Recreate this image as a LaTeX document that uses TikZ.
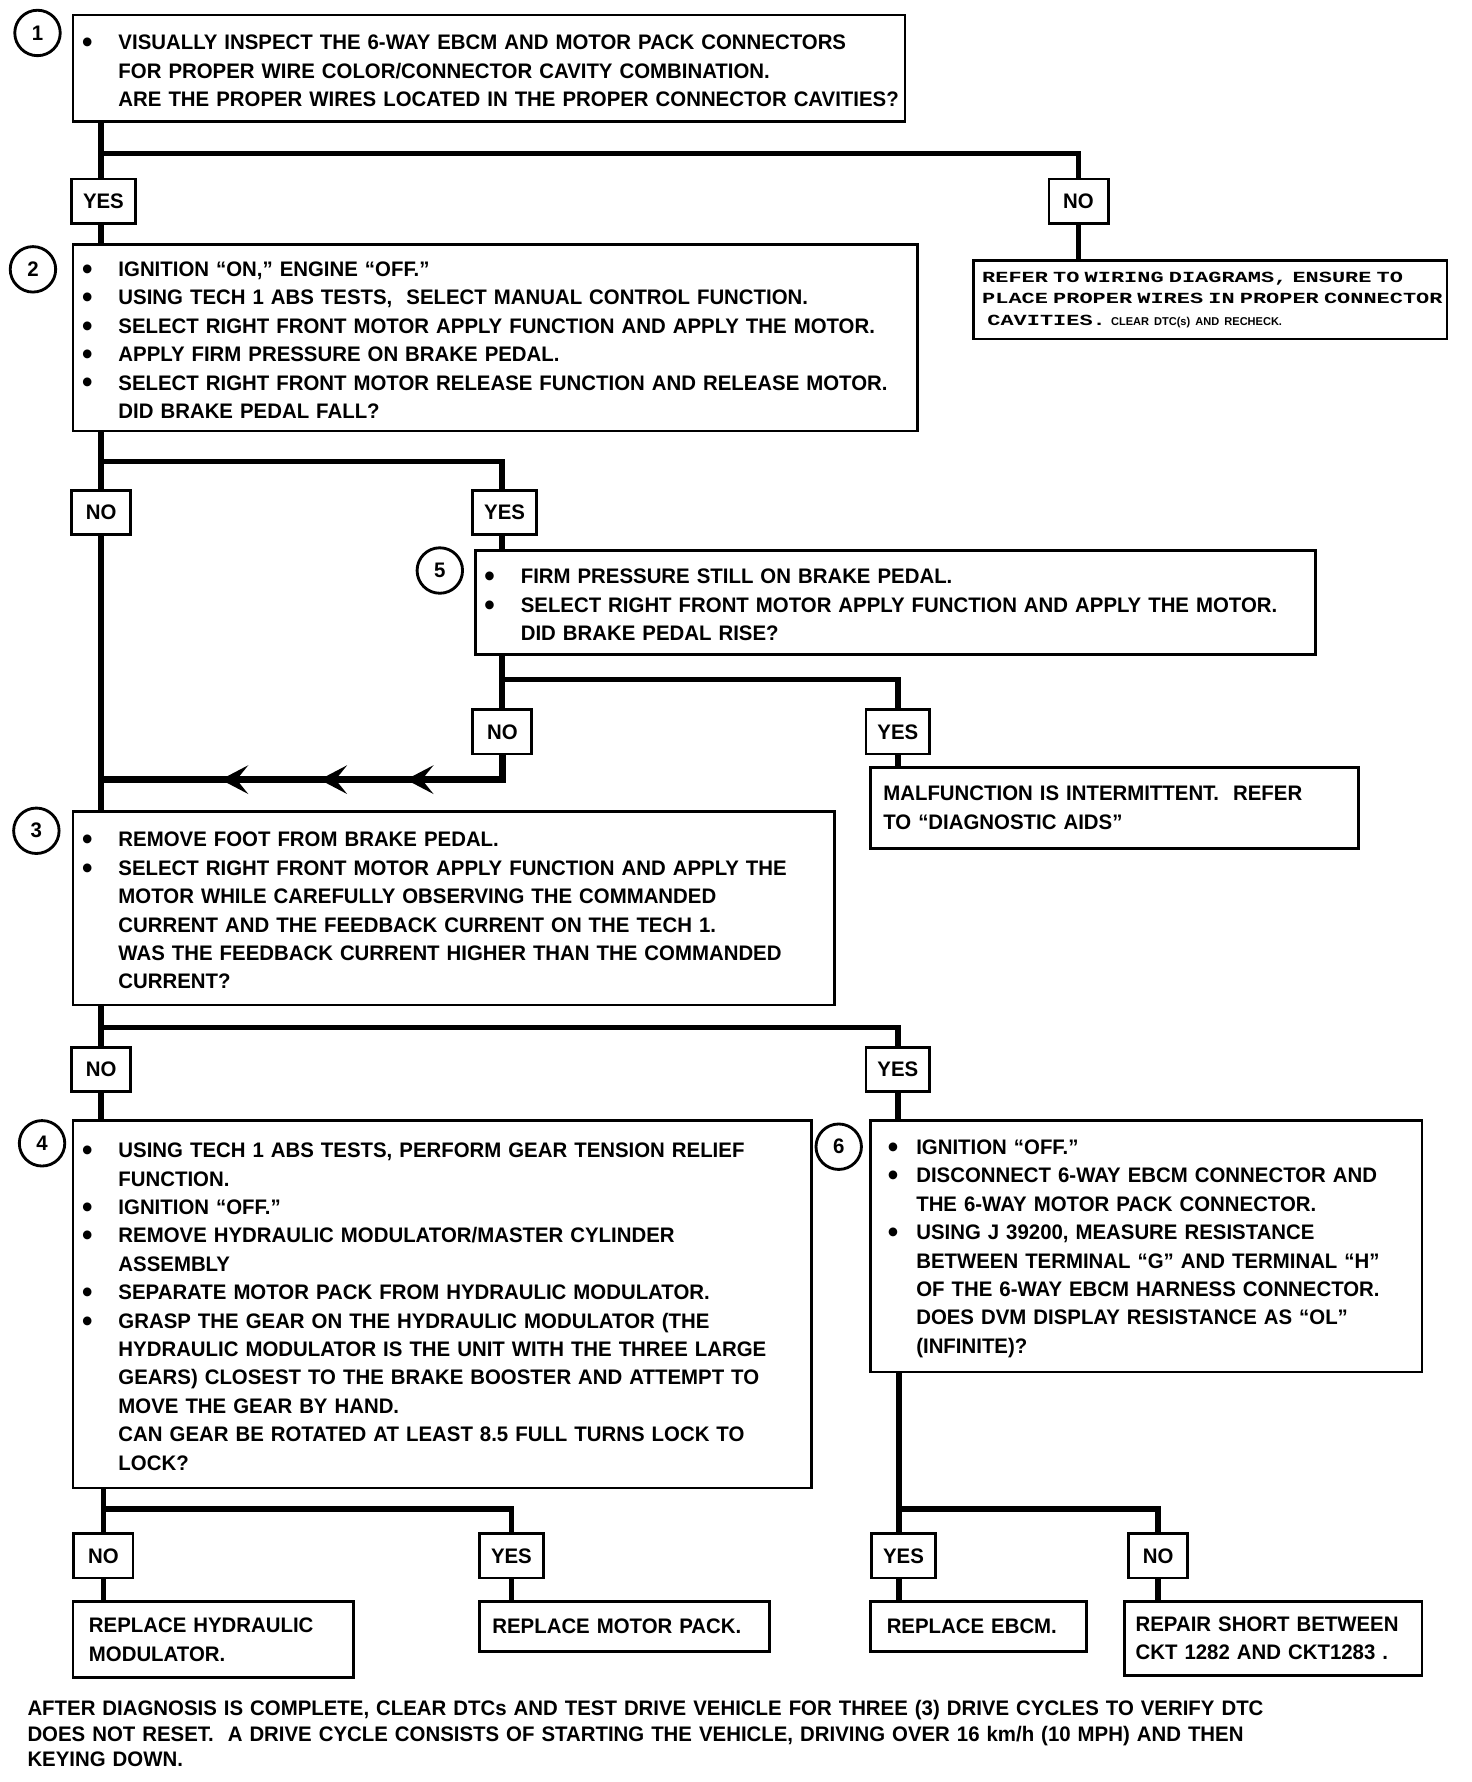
\documentclass[tikz,border=0pt]{standalone}
\usepackage{fontspec}
\setmainfont{Liberation Sans}[FakeStretch=0.97]
\newfontfamily\reffont{Liberation Mono}[FakeStretch=1.42]
\usetikzlibrary{arrows.meta,decorations.markings}
\newlength\bulind \setlength\bulind{8pt}
\newlength\itmind \setlength\itmind{40pt}
\newcommand\bigdot{\raisebox{-2.5pt}{\fontsize{27pt}{25pt}\selectfont\textbullet}}
\newcommand\bl[1]{\par\noindent\rlap{\hspace*{\bulind}\bigdot}\hspace*{\itmind}\mbox{#1}}
\newcommand\cl[1]{\par\noindent\hspace*{\itmind}\mbox{#1}}
\newcommand\padend{\par\vspace*{8pt}}
\newcommand\boxfont{\fontsize{18.5pt}{25pt}\selectfont\bfseries}

\begin{document}
\begin{tikzpicture}[x=1pt, y=-1pt, every node/.style={font=\boxfont}, >={Stealth[length=24pt, width=25pt, inset=10pt]},
	stepbox/.style={draw, line width=2.5pt, anchor=north west, inner sep=0pt, align=left, execute at end node=\padend},
	endbox/.style={draw, line width=2.5pt, anchor=north west, inner ysep=0pt, align=left},
	ans/.style={draw, line width=2.5pt, minimum width=52pt, minimum height=39pt, inner xsep=10pt, inner ysep=0pt},
	num/.style={draw, circle, line width=2.5pt, minimum size=40pt, inner sep=0pt},
	wire/.style={line width=5pt},
	backflow/.style={line width=6pt, postaction={decorate}, decoration={markings, mark=at position 106pt with {\arrow{>}}, mark=at position 182pt with {\arrow{>}}, mark=at position 269pt with {\arrow{>}}}}]
	\useasboundingbox (0,0) rectangle (1295,1568);
	\node[stepbox, text width=732pt, minimum height=94pt] (q1) at (63,12) {\bl{VISUALLY INSPECT THE 6-WAY EBCM AND MOTOR PACK CONNECTORS}\cl{FOR PROPER WIRE COLOR/CONNECTOR CAVITY COMBINATION.}\cl{ARE THE PROPER WIRES LOCATED IN THE PROPER CONNECTOR CAVITIES?}};
	\node[stepbox, text width=743pt, minimum height=164pt] (q2) at (63,214) {\bl{IGNITION ``ON,'' ENGINE ``OFF.''}\bl{USING TECH 1 ABS TESTS,~ SELECT MANUAL CONTROL FUNCTION.}\bl{SELECT RIGHT FRONT MOTOR APPLY FUNCTION AND APPLY THE MOTOR.}\bl{APPLY FIRM PRESSURE ON BRAKE PEDAL.}\bl{SELECT RIGHT FRONT MOTOR RELEASE FUNCTION AND RELEASE MOTOR.}\cl{DID BRAKE PEDAL FALL?}};
	\node[stepbox, text width=739pt, minimum height=92pt] (q5) at (417,483) {\bl{FIRM PRESSURE STILL ON BRAKE PEDAL.}\bl{SELECT RIGHT FRONT MOTOR APPLY FUNCTION AND APPLY THE MOTOR.}\cl{DID BRAKE PEDAL RISE?}};
	\node[stepbox, text width=670pt, minimum height=170pt] (q3) at (63,713) {\bl{REMOVE FOOT FROM BRAKE PEDAL.}\bl{SELECT RIGHT FRONT MOTOR APPLY FUNCTION AND APPLY THE}\cl{MOTOR WHILE CAREFULLY OBSERVING THE COMMANDED}\cl{CURRENT AND THE FEEDBACK CURRENT ON THE TECH 1.}\cl{WAS THE FEEDBACK CURRENT HIGHER THAN THE COMMANDED}\cl{CURRENT?}};
	\node[stepbox, text width=650pt, minimum height=323pt] (q4) at (63,985) {\bl{USING TECH 1 ABS TESTS, PERFORM GEAR TENSION RELIEF}\cl{FUNCTION.}\bl{IGNITION ``OFF.''}\bl{REMOVE HYDRAULIC MODULATOR/MASTER CYLINDER}\cl{ASSEMBLY}\bl{SEPARATE MOTOR PACK FROM HYDRAULIC MODULATOR.}\bl{GRASP THE GEAR ON THE HYDRAULIC MODULATOR (THE}\cl{HYDRAULIC MODULATOR IS THE UNIT WITH THE THREE LARGE}\cl{GEARS) CLOSEST TO THE BRAKE BOOSTER AND ATTEMPT TO}\cl{MOVE THE GEAR BY HAND.}\cl{CAN GEAR BE ROTATED AT LEAST 8.5 FULL TURNS LOCK TO}\cl{LOCK?}};
	\node[stepbox, text width=485pt, minimum height=221pt] (q6) at (765,985) {\setlength\bulind{15pt}\bl{IGNITION ``OFF.''}\bl{DISCONNECT 6-WAY EBCM CONNECTOR AND}\cl{THE 6-WAY MOTOR PACK CONNECTOR.}\bl{USING J 39200, MEASURE RESISTANCE}\cl{BETWEEN TERMINAL ``G'' AND TERMINAL ``H''}\cl{OF THE 6-WAY EBCM HARNESS CONNECTOR.}\cl{DOES DVM DISPLAY RESISTANCE AS ``OL''}\cl{(INFINITE)?}};
	\node[endbox, inner xsep=8pt, text width=401pt, minimum height=69pt, font={\reffont\fontsize{13.6pt}{19pt}\selectfont\bfseries}] (ref) at (855,228) {\mbox{REFER TO WIRING DIAGRAMS, ENSURE TO}\\\mbox{PLACE PROPER WIRES IN PROPER CONNECTOR}\\\mbox{\ CAVITIES. {\normalfont\fontsize{10pt}{12pt}\selectfont\bfseries CLEAR DTC(s) AND RECHECK.}}};
	\node[endbox, inner xsep=11pt, text width=407pt, minimum height=71pt] (mal) at (765,674) {\mbox{MALFUNCTION IS INTERMITTENT.~ REFER}\\TO ``DIAGNOSTIC AIDS''};
	\node[endbox, inner xsep=14pt, text width=219pt, minimum height=67pt] (rHyd) at (63,1408) {REPLACE HYDRAULIC\\MODULATOR.};
	\node[endbox, inner xsep=11pt, text width=233pt, minimum height=44pt] (rMot) at (421,1408) {REPLACE MOTOR PACK.};
	\node[endbox, inner xsep=14pt, text width=162pt, minimum height=44pt] (rEbcm) at (765,1408) {REPLACE EBCM.};
	\node[endbox, inner xsep=10pt, text width=242pt, minimum height=65pt] (rShort) at (988,1408) {\mbox{REPAIR SHORT BETWEEN}\\\mbox{CKT 1282 AND CKT1283 .}};
	\node[anchor=north west, inner sep=0pt, text width=1250pt, align=left, font={\fontsize{18.5pt}{22.5pt}\selectfont\bfseries}] (note) at (24,1496) {AFTER DIAGNOSIS IS COMPLETE, CLEAR DTCs AND TEST DRIVE VEHICLE FOR THREE (3) DRIVE CYCLES TO VERIFY DTC\\DOES NOT RESET.~ A DRIVE CYCLE CONSISTS OF STARTING THE VEHICLE, DRIVING OVER 16 km/h (10 MPH) AND THEN\\KEYING DOWN.};
	\foreach \n/\t/\x/\y in {yes1/YES/91/177, no1/NO/949/177, no2/NO/89/451, yes2/YES/444/451, no5/NO/442/644, yes5/YES/790/644, no3/NO/89/941, yes3/YES/790/941, no4/NO/91/1369, yes4/YES/450/1369, yes6/YES/795/1369, no6/NO/1019/1369}
		\node[ans] (\n) at (\x,\y) {\t};
	\foreach \k/\x/\y in {1/33/29, 2/29/237, 5/387/502, 3/32/731, 4/37/1006, 6/738/1009}
		\node[num] (c\k) at (\x,\y) {\k};
	\coordinate (br1) at (89,135);
	\coordinate (br2) at (89,406);
	\coordinate (br5) at (442,598);
	\coordinate (j3) at (89,686);
	\coordinate (br3) at (89,904);
	\coordinate (br4) at (91,1328);
	\coordinate (br6) at (791,1328);
	\draw[wire] (q1.south -| br1) -- (br1) -| (no1.north);
	\draw[wire] (br1) -- (yes1.north -| br1);
	\draw[wire] (yes1.south -| br1) -- (q2.north -| br1);
	\draw[wire] (no1.south) -- (ref.north -| no1);
	\draw[wire] (q2.south -| br2) -- (br2) -| (yes2.north -| br5);
	\draw[wire] (br2) -- (no2.north);
	\draw[wire] (yes2.south -| br5) -- (q5.north -| br5);
	\draw[wire] (no2.south) -- (q3.north -| no2);
	\draw[wire] (q5.south -| br5) -- (br5) -| (yes5.north);
	\draw[wire] (br5) -- (no5.north);
	\draw[wire] (yes5.south) -- (mal.north -| yes5);
	\draw[backflow] (no5.south) |- (j3);
	\draw[wire] (q3.south -| br3) -- (br3) -| (yes3.north);
	\draw[wire] (br3) -- (no3.north);
	\draw[wire] (no3.south) -- (q4.north -| no3);
	\draw[wire] (yes3.south) -- (q6.north -| yes3);
	\draw[wire] (q4.south -| br4) -- (br4) -| (yes4.north);
	\draw[wire] (br4) -- (no4.north);
	\draw[wire] (no4.south) -- (rHyd.north -| no4);
	\draw[wire] (yes4.south) -- (rMot.north -| yes4);
	\draw[wire] (q6.south -| br6) -- (br6) -| (no6.north);
	\draw[wire] (br6) -- (yes6.north -| br6);
	\draw[wire] (yes6.south -| br6) -- (rEbcm.north -| br6);
	\draw[wire] (no6.south) -- (rShort.north -| no6);
\end{tikzpicture}
\end{document}
